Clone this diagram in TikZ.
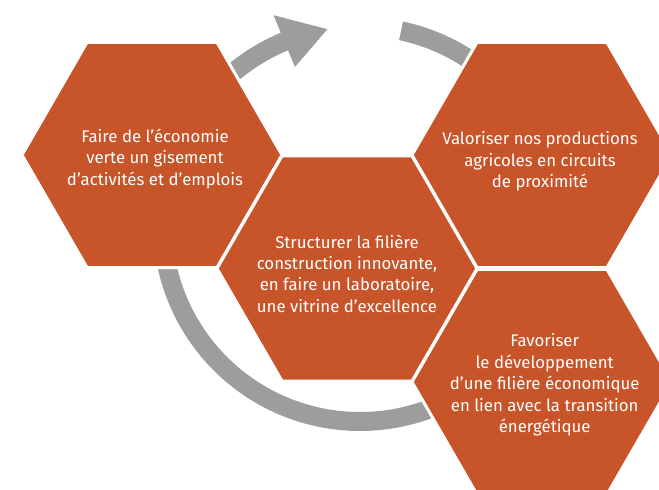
\documentclass[tikz,border=0pt]{standalone}
\usepackage{fontspec}
\setmainfont{Fira Sans}
\definecolor{hexorange}{HTML}{C8542A}
\definecolor{arcgrey}{HTML}{9D9D9B}
\tikzset{
  hexbox/.style={fill=hexorange, draw=white, line width=3pt, line join=miter},
  ring/.style={fill=arcgrey},
  txt/.style={text=white, align=center, inner sep=0pt,
    font=\fontsize{16.8}{21.4}\selectfont}
}
\begin{document}
\begin{tikzpicture}[x=1pt,y=1pt]
\useasboundingbox (0,0) rectangle (659,490);
\clip (0,0) rectangle (659,490);
% circle centre of the cycle arrows
\coordinate (cc) at (360,266);
% grey ring pieces
\begin{scope}[shift={(cc)}]
  \fill[ring] (185:207) arc[start angle=185, end angle=300, radius=207pt]
     -- (300:188) arc[start angle=300, end angle=185, radius=188pt] -- cycle;
  \fill[ring] (140:207) arc[start angle=140, end angle=112.5, radius=207pt]
     -- (112.5:226) -- (99.5:197.5) -- (112.5:170) -- (112.5:188)
     arc[start angle=112.5, end angle=140, radius=188pt] -- cycle;
  \fill[ring] (78:207) arc[start angle=78, end angle=50, radius=207pt]
     -- (50:188) arc[start angle=50, end angle=78, radius=188pt] -- cycle;
\end{scope}
% hexagons
\coordinate (h1) at (152,335);
\coordinate (h2) at (347,221.5);
\coordinate (h3) at (542,335);
\coordinate (h4) at (542,108);
\foreach \h in {h1,h2,h3,h4}{
  \filldraw[hexbox] (\h) +(0:130) -- +(60:130) -- +(120:130) -- +(180:130)
     -- +(240:130) -- +(300:130) -- cycle;
}
\node[txt] (t1) at (155,331) {Faire de l’économie\\verte un gisement\\d’activités et d’emplois};
\node[txt] (t2) at (347,216.5) {Structurer la filière\\construction innovante,\\en faire un laboratoire,\\une vitrine d’excellence};
\node[txt] (t3) at (540,328.5) {Valoriser nos productions\\agricoles en circuits\\de proximité};
\node[txt] (t4) at (544.7,105) {Favoriser\\le développement\\d’une filière économique\\en lien avec la transition\\énergétique};
\end{tikzpicture}
\end{document}
